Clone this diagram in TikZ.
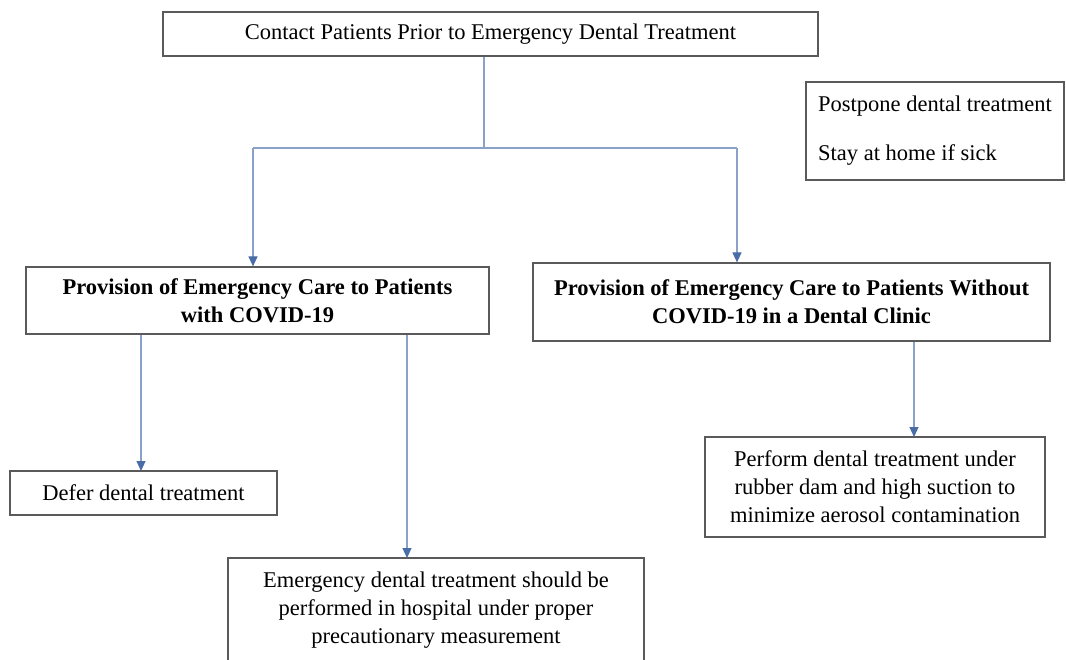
\documentclass[tikz,border=0pt]{standalone}
\usepackage{fontspec}
\setmainfont{Liberation Serif}
\usetikzlibrary{arrows.meta}
\definecolor{linkblue}{HTML}{8AA2C8}
\definecolor{tipblue}{HTML}{4A6DA7}
\definecolor{boxgray}{HTML}{5A5A5A}
\begin{document}
\begin{tikzpicture}[x=1pt,y=-1pt,
  box/.style={draw=boxgray,line width=1.2pt,align=center,inner sep=0pt,
    font=\fontsize{22.5}{28}\selectfont},
  link/.style={draw=linkblue,line width=1.2pt},
  arrow/.style={link,-{Triangle[width=9pt,length=10pt,color=tipblue]}}]
\useasboundingbox (0,0) rectangle (1066,660);
\node[box,minimum width=655pt,minimum height=44pt] (contact) at (490.5,34)
  {Contact Patients Prior to Emergency Dental Treatment};
\node[box,align=left,minimum width=258pt,minimum height=98pt] (advice) at (935,131)
  {Postpone dental treatment\\[21pt]Stay at home if sick};
\node[box,font=\fontsize{22.5}{28}\selectfont\bfseries,minimum width=463pt,minimum height=67pt] (withcovid) at (257.5,300.5)
  {Provision of Emergency Care to Patients\\with COVID-19};
\node[box,font=\fontsize{22.5}{28}\selectfont\bfseries,minimum width=517pt,minimum height=78pt] (nocovid) at (791.5,302)
  {Provision of Emergency Care to Patients Without\\COVID-19 in a Dental Clinic};
\node[box,minimum width=267pt,minimum height=44pt] (defer) at (143.5,493)
  {Defer dental treatment};
\node[box,minimum width=416pt,minimum height=104pt] (hospital) at (436,610)
  {Emergency dental treatment should be\\performed in hospital under proper\\precautionary measurement};
\node[box,minimum width=340pt,minimum height=100pt] (perform) at (875,487)
  {Perform dental treatment under\\rubber dam and high suction to\\minimize aerosol contamination};
\coordinate (split) at (484,148);
\coordinate (leftdrop) at (253,148);
\coordinate (rightdrop) at (737,148);
\coordinate (deferin) at (141,471);
\coordinate (hospin) at (407,558);
\coordinate (performin) at (914,437);
\draw[link] (contact.south -| split) -- (split);
\draw[link] (leftdrop) -- (rightdrop);
\draw[arrow] (leftdrop) -- (leftdrop |- withcovid.north);
\draw[arrow] (rightdrop) -- (rightdrop |- nocovid.north);
\draw[arrow] (withcovid.south -| deferin) -- (deferin);
\draw[arrow] (withcovid.south -| hospin) -- (hospin);
\draw[arrow] (nocovid.south -| performin) -- (performin);
\end{tikzpicture}
\end{document}
